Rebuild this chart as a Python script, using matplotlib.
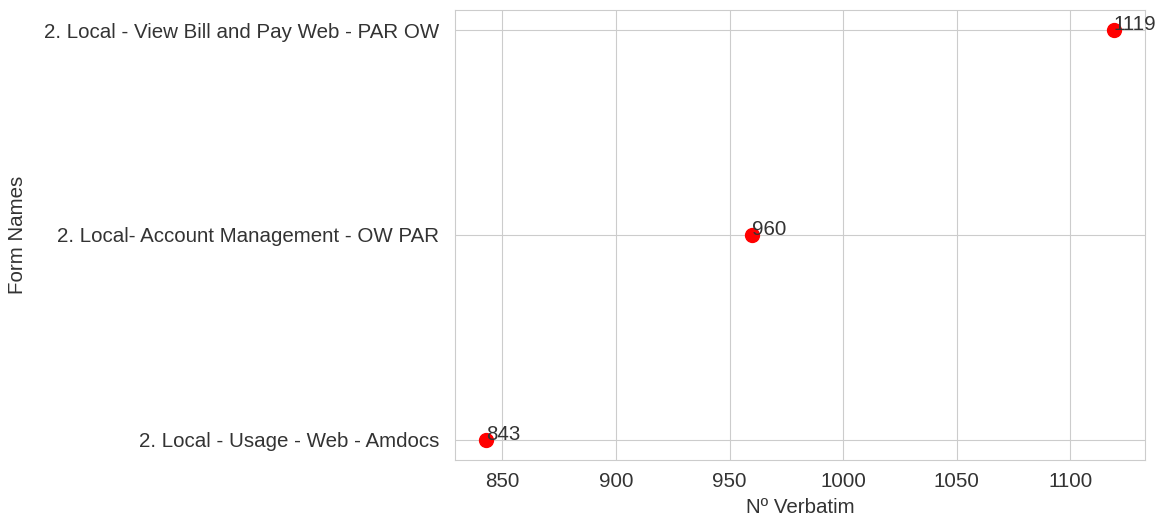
import matplotlib

matplotlib.use("Agg")
import matplotlib.pyplot as plt
import seaborn as sns

forms = [
    "2. Local - Usage - Web - Amdocs",
    "2. Local- Account Management - OW PAR",
    "2. Local - View Bill and Pay Web - PAR OW",
]
verbatim = [843, 960, 1119]

sns.set_style("whitegrid")
plt.rcParams["font.family"] = ["Liberation Sans", "DejaVu Sans"]

fs = 14.8
txt = "#333333"
fig = plt.figure(figsize=(11.65, 5.18), dpi=100)
ax = fig.add_axes([0.3906, 0.112, 0.5922, 0.8687])
ax.scatter(verbatim, forms, color="red", s=100, zorder=3)
for x, y in zip(verbatim, forms):
    ax.annotate(str(x), (x, y), fontsize=fs, color=txt, zorder=4)

ax.set_xlabel("Nº Verbatim", fontsize=fs, color=txt, labelpad=5)
ax.set_ylabel("Form Names", fontsize=fs, color=txt, labelpad=12)
ax.tick_params(labelsize=fs, colors=txt)
ax.tick_params(axis="y", pad=8)
ax.tick_params(axis="x", pad=5)
for s in ax.spines.values():
    s.set_color("#cccccc")
ax.grid(color="#cccccc")

fig.savefig("out.png", dpi=100)
